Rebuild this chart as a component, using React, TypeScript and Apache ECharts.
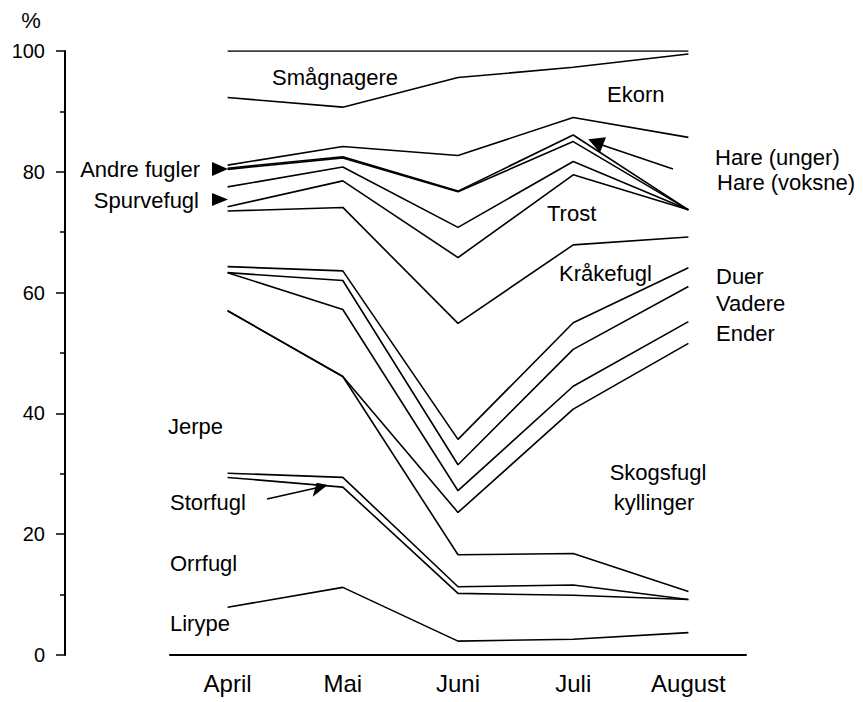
import React, { useEffect, useRef } from "react";
import * as echarts from "echarts";

const months = ["April", "Mai", "Juni", "Juli", "August"];
const yTicks = [0, 20, 40, 60, 80, 100];

// Cumulative boundaries (lower edge of each named band), in %
const topEdge = [100, 100, 100, 100, 100];
const smaagnagereLower = [92.3, 90.7, 95.6, 97.3, 99.5];
const ekornLower = [81.1, 84.2, 82.7, 89.0, 85.7];
const hareUngerLower = [80.6, 82.5, 76.8, 86.1, 73.7];
const hareVoksneLower = [80.4, 82.3, 76.7, 85.0, 73.7];
const andreFuglerLower = [77.5, 80.8, 70.8, 81.7, 73.7];
const spurvefuglLower = [74.2, 78.5, 65.8, 79.5, 73.7];
const trostLower = [73.5, 74.1, 54.9, 67.9, 69.2];
const kraakefuglLower = [64.3, 63.6, 35.7, 55.0, 64.1];
const duerLower = [63.3, 62.0, 31.5, 50.6, 61.0];
const vadereLower = [63.3, 57.2, 27.2, 44.5, 55.2];
const enderLower = [57.0, 46.1, 23.6, 40.7, 51.6];
const skogsfuglKyllingerLower = [57.0, 46.1, 16.6, 16.8, 10.5];
const jerpeLower = [30.1, 29.4, 11.3, 11.6, 9.2];
const storfuglLower = [29.4, 27.8, 10.2, 9.9, 9.2];
const orrfuglLower = [7.9, 11.2, 2.3, 2.6, 3.7];

const boundaries = [
  topEdge,
  smaagnagereLower,
  ekornLower,
  hareUngerLower,
  hareVoksneLower,
  andreFuglerLower,
  spurvefuglLower,
  trostLower,
  kraakefuglLower,
  duerLower,
  vadereLower,
  enderLower,
  skogsfuglKyllingerLower,
  jerpeLower,
  storfuglLower,
  orrfuglLower,
];

const FONT = '"Liberation Sans", Arial, sans-serif';

type Lbl = { text: string; x: number; y: number; align?: string };
const labels: Lbl[] = [
  { text: "%", x: 31, y: 20, align: "center" },
  { text: "Smågnagere", x: 272, y: 77 },
  { text: "Ekorn", x: 607, y: 94 },
  { text: "Hare (unger)", x: 715, y: 157 },
  { text: "Hare (voksne)", x: 717, y: 182 },
  { text: "Trost", x: 547, y: 213 },
  { text: "Kråkefugl", x: 559, y: 273 },
  { text: "Duer", x: 716, y: 276 },
  { text: "Vadere", x: 716, y: 303 },
  { text: "Ender", x: 716, y: 333 },
  { text: "Andre fugler", x: 200, y: 169, align: "right" },
  { text: "Spurvefugl", x: 199, y: 200, align: "right" },
  { text: "Jerpe", x: 168, y: 426 },
  { text: "Storfugl", x: 170, y: 502 },
  { text: "Orrfugl", x: 170, y: 563 },
  { text: "Lirype", x: 170, y: 623 },
  { text: "Skogsfugl", x: 658, y: 472, align: "center" },
  { text: "kyllinger", x: 654, y: 502, align: "center" },
];

export default function App() {
  const ref = useRef<HTMLDivElement>(null);
  useEffect(() => {
    if (!ref.current) return;
    const chart = echarts.init(ref.current, null, { renderer: "svg" });
    const graphics: any[] = labels.map((l) => ({
      type: "text",
      x: l.x,
      y: l.y,
      style: {
        text: l.text,
        fill: "#000",
        font: `22px ${FONT}`,
        textAlign: l.align || "left",
        textVerticalAlign: "middle",
        verticalAlign: "middle",
      },
    }));
    // arrows
    graphics.push(
      { type: "polygon", shape: { points: [[212, 162], [212, 176], [228, 169]] }, style: { fill: "#000" } },
      { type: "polygon", shape: { points: [[212, 193], [212, 206], [228, 199.5]] }, style: { fill: "#000" } },
      { type: "line", shape: { x1: 267, y1: 499, x2: 316, y2: 488 }, style: { stroke: "#000", lineWidth: 1.6 } },
      { type: "polygon", shape: { points: [[312.7, 496.7], [316.7, 482.7], [327.7, 485]] }, style: { fill: "#000" } },
      { type: "line", shape: { x1: 673, y1: 169, x2: 602, y2: 145 }, style: { stroke: "#000", lineWidth: 1.6 } },
      { type: "polygon", shape: { points: [[606, 137.3], [600, 152.7], [588.3, 139.3]] }, style: { fill: "#000" } }
    );

    chart.setOption({
      animation: false,
      backgroundColor: "#fff",
      grid: { left: 170, right: 117, top: 51, bottom: 47 },
      xAxis: {
        type: "category",
        data: months,
        boundaryGap: true,
        axisLine: { lineStyle: { color: "#000", width: 2 } },
        axisTick: { alignWithLabel: true, length: 5, lineStyle: { color: "#000", width: 1.5 } },
        axisLabel: { color: "#000", fontSize: 24, fontFamily: FONT, margin: 16 },
        splitLine: { show: false },
      },
      yAxis: {
        type: "value",
        min: 0,
        max: 100,
        interval: 20,
        offset: 105,
        axisLine: { show: true, lineStyle: { color: "#000", width: 2 } },
        axisTick: { show: true, length: 9, lineStyle: { color: "#000", width: 1.5 } },
        minorTick: { show: true, splitNumber: 2, length: 5, lineStyle: { color: "#000", width: 1.5 } },
        axisLabel: {
          color: "#000",
          fontSize: 20,
          fontFamily: FONT,
          margin: 20,
          formatter: (v: number) => (yTicks.includes(v) ? String(v) : ""),
        },
        splitLine: { show: false },
      },
      series: boundaries.map((d, i) => ({
        type: "line",
        name: "b" + i,
        data: d,
        symbol: "none",
        lineStyle: { color: "#000", width: 1.6 },
        silent: true,
      })),
      graphic: graphics,
    });
    return () => chart.dispose();
  }, []);
  return <div ref={ref} style={{ width: 863, height: 702, position: "absolute", left: 0, top: 0 }} />;
}
